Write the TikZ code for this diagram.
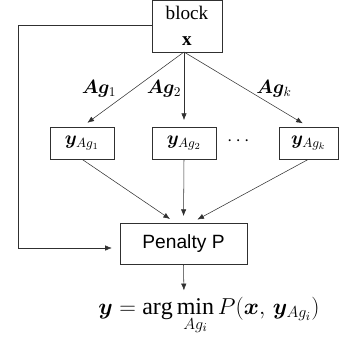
\documentclass[tikz,border=0pt]{standalone}
\usepackage{amsmath}
\usepackage{bm}
\usepackage{fontspec}
\setmainfont{Liberation Serif}
\newfontfamily\arialfont{Liberation Sans}
\usetikzlibrary{arrows.meta,positioning}
\definecolor{lnblack}{HTML}{303030}

\begin{document}
\begin{tikzpicture}[
x=0.75pt,y=-0.75pt,
every node/.style={font=\Large},
box/.style={draw=lnblack,thin,inner sep=2pt,align=center,fill=white},
arr/.style={-{Latex[length=5pt,width=4pt]},draw=lnblack,thin,shorten >=5pt}
]
\useasboundingbox (0,0) rectangle (339,347);
\node[box,minimum width=52.5pt,minimum height=39pt] (blk) at (187,26)
  {block\\[1pt] $\mathbf{x}$};
\coordinate (top) at (184,52);
\node[box,minimum width=48pt,minimum height=24pt] (ya) at (82,143) {$\bm{y}_{Ag_1}$};
\node[box,minimum width=48pt,minimum height=24pt] (yb) at (184,143) {$\bm{y}_{Ag_2}$};
\node[box,minimum width=44pt,minimum height=24pt] (yk) at (308.5,143) {$\bm{y}_{Ag_k}$};
\node (dots) at (240,141) {$\cdots$};
\node[box,minimum width=95pt,minimum height=30.75pt,font=\arialfont\Large] (pen) at (183.5,243.5) {Penalty P};
\node (res) at (209,316) {\fontsize{18}{22}\selectfont$\displaystyle \bm{y}=\arg\min_{Ag_i} P(\bm{x},\,\bm{y}_{Ag_i})$};
\coordinate (fb) at (18,248);
\coordinate (bot) at (184,297);

\draw[arr] (top) -- (ya.north);
\draw[arr] (top) -- (yb.north);
\draw[arr] (top) -- (yk.north);
\node (lba) at (99,89) {$\bm{Ag}_1$};
\node (lbb) at (164,89) {$\bm{Ag}_2$};
\node (lbk) at (274,89) {$\bm{Ag}_k$};

\draw[arr] (ya.south) -- ([xshift=-6pt]pen.north);
\draw[arr] (yb.south) -- (pen.north);
\draw[arr] (yk.south) -- ([xshift=6pt]pen.north);
\draw[arr,shorten >=6pt] (blk.west |- 0,25) -| (fb) -- (fb -| pen.west);
\draw[arr] (pen.south) -- (bot);
\end{tikzpicture}
\end{document}
